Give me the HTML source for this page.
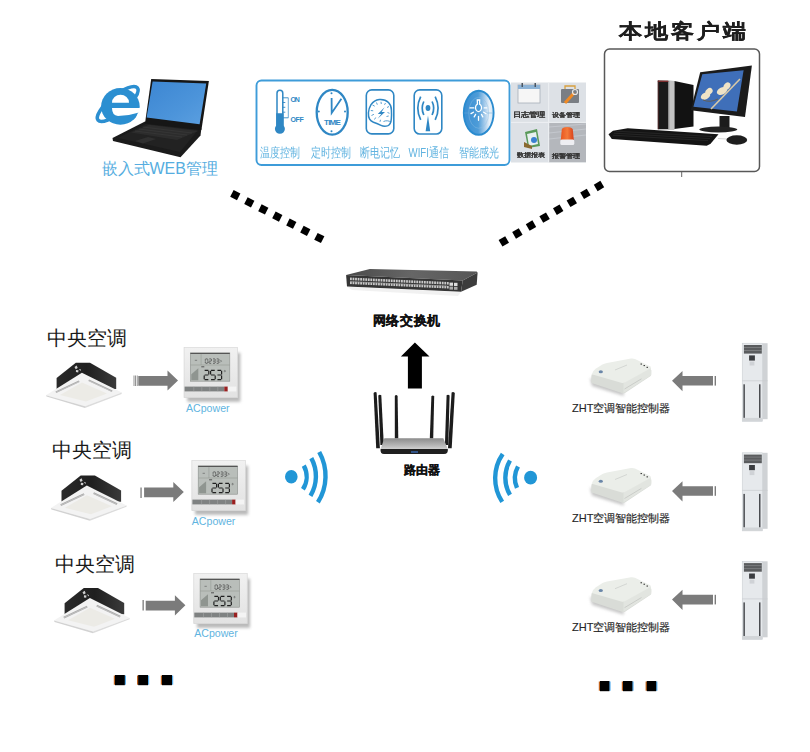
<!DOCTYPE html>
<html><head><meta charset="utf-8">
<style>
html,body{margin:0;padding:0;background:#fff;}
body{width:810px;height:752px;position:relative;overflow:hidden;font-family:"Liberation Sans",sans-serif;}
svg.main{position:absolute;left:0;top:0;}
.t{position:absolute;white-space:nowrap;line-height:1;}
.feat{color:#60b3e0;font-size:9.65px;transform-origin:0 0;transform:scaleY(1.3);}
.grid{color:#383838;-webkit-text-stroke:0.1px #383838;font-size:8.2px;font-weight:bold;transform-origin:0 0;transform:scaleY(0.85);}
.ac{color:#1a1a1a;font-size:19.6px;}
.acp{color:#5fb4e0;font-size:10.6px;}
.zht{color:#262626;font-size:11px;-webkit-text-stroke:0.15px #262626;}
</style></head>
<body>
<svg class="main" width="810" height="752" viewBox="0 0 810 752">
<defs>
  <linearGradient id="lapscr" x1="0" y1="0" x2="1" y2="1">
    <stop offset="0" stop-color="#3c86d2"/><stop offset="0.6" stop-color="#4c94da"/><stop offset="1" stop-color="#5b9fe0"/>
  </linearGradient>
  <radialGradient id="bulbg" cx="0.7" cy="0.45" r="0.7">
    <stop offset="0" stop-color="#e8f2fa"/><stop offset="0.45" stop-color="#7db7e2"/><stop offset="1" stop-color="#3a8ccd"/>
  </radialGradient>
</defs>

<!-- IE logo -->
<ellipse cx="117.7" cy="104" rx="25.5" ry="8.5" transform="rotate(-39.5 117.7 104)" fill="none" stroke="#2b8fd1" stroke-width="3.6"/>
<ellipse cx="120.4" cy="106.4" rx="19.3" ry="18.3" fill="#2b8fd1"/>
<path fill="#fff" d="M112,102.7 H129 A8.5,8 0 0 0 112,102.7 Z"/>
<path fill="#fff" d="M112,108 H142 V112.7 H138 Q128,116 118,116 Q112,115.5 112,108 Z"/>
<polygon fill="#fff" points="138,112.7 142,112.7 142,122 135.3,119.3"/>
<!-- Laptop -->
<polygon points="112.5,138 145,121.5 201.4,128.3 200.5,135.4 180.5,157.3 113,141" fill="#1b1b1b"/>
<polygon points="118,138 146,124 198,130 180,152" fill="#222"/>
<polygon points="131,132.5 149,124.8 198,131 177,140" fill="#2c2c2c"/>
<g stroke="#3e3e3e" stroke-width="0.5"><line x1="135" y1="131" x2="182" y2="137"/><line x1="139" y1="129" x2="187" y2="135"/><line x1="143" y1="127" x2="192" y2="133"/></g>
<polygon points="135,141 148,137 156,139 143,143.5" fill="#303030"/>
<polygon points="151.2,79.1 208.9,81.1 201.4,130 145,123.5" fill="#161616"/>
<polygon points="152.6,81.4 206.2,83.4 199.6,124.2 146.6,117.6" fill="url(#lapscr)"/>

<!-- Feature panel -->
<rect x="256.5" y="80.5" width="253" height="84.5" rx="5" fill="#fff" stroke="#3e9cd9" stroke-width="1.9"/>
<g fill="none" stroke="#2f87c4">
  <!-- thermometer -->
  <path d="M277,127 V93.2 A2.9,2.9 0 0 1 282.8,93.2 V127" stroke-width="1.5"/>
  <line x1="282.8" y1="97.8" x2="288.3" y2="97.8" stroke-width="0.9"/>
  <line x1="282.8" y1="102.5" x2="285.3" y2="102.5" stroke-width="0.9"/>
  <line x1="282.8" y1="107.3" x2="285.3" y2="107.3" stroke-width="0.9"/>
  <line x1="282.8" y1="112.2" x2="285.3" y2="112.2" stroke-width="0.9"/>
  <line x1="282.8" y1="117.8" x2="288.3" y2="117.8" stroke-width="0.9"/>
  <line x1="288.3" y1="97.8" x2="288.3" y2="117.8" stroke-width="0.7"/>
  <!-- clock -->
  <ellipse cx="332.2" cy="112.2" rx="15.5" ry="22.4" stroke-width="2.3"/>
  <path d="M331.6,98 L331.7,112.9 L341.4,98.7" stroke-width="1.8"/>
  <!-- brain box -->
  <rect x="366.3" y="89.9" width="27.5" height="44" rx="5.5" stroke-width="1.6"/>
  <path d="M369.6,119.2 C367.8,116 367.8,110 371,104.7 C373.5,101 376.5,99.8 379.3,99.5 C383,99.2 386.5,100.5 388.5,102.5 C390.8,104.8 391.4,107.5 391.4,110 C391.6,113 391.6,116 391.3,119 C391.1,122 390.3,124.5 388,125.6 C386,126.4 383,126.4 381,125.4 C378.5,124.2 376,123.2 373.5,122.3 C371.8,121.6 370.5,120.8 369.6,119.2 Z" stroke-width="1.5"/>
  <path d="M383.5,121.5 C386,120.3 389,120.6 391,122.2 M372.5,105 l2.2,1.2 M376.5,102.5 l0.8,2.2 M381,101.8 l0.3,2.2 M385.5,103 l-1,1.8 M389,106.5 l-2,1 M370.8,110.5 l2.4,0.3 M371.5,115.5 l2.4,-1.2 M374.5,119.5 l1.2,-2 M387.5,112.5 l2,0.8 M386.5,116.5 l2.2,-0.5 M380,121.8 l0.5,-2" stroke-width="0.8"/>
  <!-- wifi box -->
  <rect x="414.2" y="89.9" width="27.6" height="44.1" rx="5.5" stroke-width="1.6"/>
  <path d="M423.8,101.5 Q420.6,108.2 423.8,115 M432.1,101.5 Q435.3,108.2 432.1,115" stroke-width="1.7"/>
  <path d="M420.7,96.7 Q414.9,108.3 420.7,119.9 M435.2,96.7 Q441,108.3 435.2,119.9" stroke-width="1.7"/>
</g>
<g fill="#2f87c4">
  <path d="M276.2,113.3 H283.6 V125.5 A5,5 0 1 1 276.2,125.5 Z"/>
  <circle cx="331.5" cy="93.2" r="1"/><circle cx="331.5" cy="131.3" r="1"/>
  <circle cx="318.8" cy="111.6" r="1"/><circle cx="345" cy="111.6" r="1"/>
  <path d="M384.6,107.2 L377.8,114 H381.3 L377.6,118.8 L385,112 H381.6 Z"/>
  <ellipse cx="428" cy="108.1" rx="2.4" ry="3"/>
  <path d="M428,115.4 L430.2,131.3 H425.6 Z"/>
</g>
<defs>
  <linearGradient id="bulbl" x1="0" y1="0" x2="1" y2="0">
    <stop offset="0" stop-color="#3a8ed2"/><stop offset="0.48" stop-color="#4d9cd8"/><stop offset="0.7" stop-color="#a6cbeb"/><stop offset="0.86" stop-color="#e8f1f9"/><stop offset="1" stop-color="#d2e5f4"/>
  </linearGradient>
</defs>
<ellipse cx="478.7" cy="112.8" rx="14.9" ry="22" fill="url(#bulbl)" stroke="#2a8bcf" stroke-width="1.9"/>
<ellipse cx="478.7" cy="112.8" rx="10" ry="15.5" fill="none" stroke="#8fbfe3" stroke-width="0.6" opacity="0.7"/>
<line x1="464" y1="113" x2="493.5" y2="113" stroke="#6aaad8" stroke-width="0.5"/>
<g fill="none" stroke="#fff" stroke-width="1.3" stroke-linecap="round">
  <path d="M477.3,100 H479.7 L479.6,104.2 A3,3.8 0 1 1 477.4,104.2 Z" fill="#4a9ad6"/>
  <path d="M470,107.9 H473.8 M484.2,107.9 H486.7 M471,113.6 L473.4,112.2 M474.2,116.9 L475.6,114.4 M478.5,120.3 V116.3 M482.8,116.9 L481.5,114.4 M486,113.6 L483.6,112.2"/>
</g>
<g font-family="Liberation Sans" font-weight="bold" fill="#2f87c4">
  <text x="290.4" y="102.3" font-size="7" textLength="9.5" transform="translate(290.4 102.3) scale(1 1.05) translate(-290.4 -102.3)">ON</text>
  <text x="290.4" y="121.7" font-size="7" textLength="13.5" transform="translate(290.4 121.7) scale(1 1.05) translate(-290.4 -121.7)">OFF</text>
  <text x="324.1" y="125.2" font-size="8" textLength="16.7" transform="translate(324.1 125.2) scale(1 1.0) translate(-324.1 -125.2)">TIME</text>
</g>

<!-- Grey grid -->
<rect x="511" y="82.5" width="75" height="80" fill="#dde1e6"/>
<rect x="549" y="122.5" width="37" height="39.7" fill="#b4b7bc"/>
<g stroke="#c8ccd2" stroke-width="0.8" fill="none">
  <line x1="549" y1="127" x2="586" y2="124"/><line x1="549" y1="133" x2="586" y2="129"/><line x1="549" y1="139" x2="586" y2="135"/>
</g>
<line x1="548.7" y1="82.5" x2="548.7" y2="162.2" stroke="#eef0f3" stroke-width="1"/>
<line x1="511" y1="122.4" x2="586" y2="122.4" stroke="#eef0f3" stroke-width="1"/>
<!-- calendar -->
<rect x="518" y="85" width="22" height="18" fill="#f6f6f6" stroke="#a9b0b8" stroke-width="0.8"/>
<rect x="518" y="85" width="22" height="4" fill="#8db3d6"/>
<rect x="521.5" y="83" width="1.5" height="4" fill="#4a5560"/><rect x="534.5" y="83" width="1.5" height="4" fill="#4a5560"/>
<!-- toolbox -->
<rect x="561" y="89" width="18" height="14" rx="1" fill="#7a7e84"/>
<path d="M565,89 V86 H575 V89" fill="none" stroke="#d8a040" stroke-width="1.3"/>
<path d="M565,103 L574,93" stroke="#f08a24" stroke-width="3"/>
<circle cx="575" cy="92" r="2.5" fill="none" stroke="#e8e8e8" stroke-width="1.2"/>
<!-- chart icon -->
<polygon points="525,132 537,129 540,146 528,148" fill="#5a9a5a"/>
<polygon points="527,134 536,132 538,144 529,146" fill="#e8f0f0"/>
<circle cx="534" cy="140" r="3" fill="#3a80d0"/>
<polygon points="524,142 532,146 532,149 524,147" fill="#8a6a30"/>
<!-- alarm -->
<defs><linearGradient id="alg" x1="0" y1="0" x2="1" y2="0"><stop offset="0" stop-color="#e8551f"/><stop offset="0.5" stop-color="#f47a3a"/><stop offset="1" stop-color="#d8401a"/></linearGradient></defs>
<path d="M560.8,140 L561.8,129.5 Q562.2,127 567.2,127 Q572.2,127 572.8,129.5 L573.8,140 Z" fill="url(#alg)"/>
<rect x="560.3" y="139.5" width="14" height="5.5" rx="1.5" fill="#eeeef2"/>

<!-- Computer box -->
<rect x="604.5" y="49" width="155" height="122.5" rx="5" fill="#fff" stroke="#585858" stroke-width="1.5"/>
<line x1="681.7" y1="172" x2="681.7" y2="177" stroke="#666" stroke-width="1"/>
<!-- tower -->
<polygon points="674.4,81 693.5,85 693.5,126.5 674.4,129" fill="#121212"/>
<polygon points="657.8,80.6 674.4,81 674.4,129.2 657.8,129.2" fill="#1a1a1a"/>
<rect x="668.3" y="81" width="6.1" height="48.2" fill="#c4c4c4"/>
<rect x="668.3" y="81" width="1" height="48.2" fill="#8a8a8a"/>
<rect x="657.8" y="80.6" width="10.5" height="1.3" fill="#8a3030"/>
<rect x="657.8" y="80.6" width="0.8" height="48.6" fill="#5a2a2a"/>
<!-- monitor -->
<polygon points="700.2,72.2 751.9,65.4 745,117 690.7,110.2" fill="#1b1b1b"/>
<polygon points="702.3,74.3 743.6,70.2 736.9,111.6 693.4,106.8" fill="#3f6fb9"/>
<g fill="#efe3c6">
  <ellipse cx="705.5" cy="96" rx="5" ry="3.3" transform="rotate(-25 705.5 96)"/>
  <ellipse cx="709" cy="91.5" rx="4" ry="3" transform="rotate(-40 709 91.5)"/>
  <ellipse cx="722" cy="91" rx="5.5" ry="3.5" transform="rotate(-25 722 91)"/>
  <ellipse cx="727" cy="86" rx="4" ry="3" transform="rotate(-50 727 86)"/>
</g>
<line x1="711" y1="109" x2="740" y2="79" stroke="#d9c9a6" stroke-width="1.6"/>
<path d="M703,100 Q710,103 718,99" stroke="#6a5a40" stroke-width="0.8" fill="none"/>
<rect x="719.5" y="116" width="10" height="12" fill="#1c1c1c"/>
<ellipse cx="718.3" cy="129.5" rx="19" ry="2.9" fill="#222"/>
<!-- keyboard -->
<polygon points="608.5,134.3 613,130.8 627.7,128.3 718.5,134.2 710.6,143.7 706.7,145.7 611.8,139" fill="#141414"/>
<g stroke="#3a3a3a" stroke-width="0.45">
<line x1="616" y1="131.2" x2="712" y2="136.5"/><line x1="614" y1="133.2" x2="710" y2="138.6"/><line x1="613" y1="135.2" x2="708" y2="140.6"/>
</g>
<line x1="718" y1="138.5" x2="727" y2="139" stroke="#bbb" stroke-width="0.6"/>
<ellipse cx="736.8" cy="140" rx="10.4" ry="4.7" fill="#1e1e1e"/>

<!-- dotted lines -->
<g fill="#000">
<rect x="231.50" y="191.40" width="7.6" height="7.6" transform="rotate(27.0 235.30 195.20)"/>
<rect x="245.50" y="198.53" width="7.6" height="7.6" transform="rotate(27.0 249.30 202.33)"/>
<rect x="259.50" y="205.67" width="7.6" height="7.6" transform="rotate(27.0 263.30 209.47)"/>
<rect x="273.50" y="212.80" width="7.6" height="7.6" transform="rotate(27.0 277.30 216.60)"/>
<rect x="287.50" y="219.93" width="7.6" height="7.6" transform="rotate(27.0 291.30 223.73)"/>
<rect x="301.50" y="227.07" width="7.6" height="7.6" transform="rotate(27.0 305.30 230.87)"/>
<rect x="315.50" y="234.20" width="7.6" height="7.6" transform="rotate(27.0 319.30 238.00)"/>
<rect x="500.00" y="237.60" width="7.6" height="7.6" transform="rotate(-30.2 503.80 241.40)"/>
<rect x="513.60" y="229.69" width="7.6" height="7.6" transform="rotate(-30.2 517.40 233.49)"/>
<rect x="527.20" y="221.77" width="7.6" height="7.6" transform="rotate(-30.2 531.00 225.57)"/>
<rect x="540.80" y="213.86" width="7.6" height="7.6" transform="rotate(-30.2 544.60 217.66)"/>
<rect x="554.40" y="205.94" width="7.6" height="7.6" transform="rotate(-30.2 558.20 209.74)"/>
<rect x="568.00" y="198.03" width="7.6" height="7.6" transform="rotate(-30.2 571.80 201.83)"/>
<rect x="581.60" y="190.11" width="7.6" height="7.6" transform="rotate(-30.2 585.40 193.91)"/>
<rect x="595.20" y="182.20" width="7.6" height="7.6" transform="rotate(-30.2 599.00 186.00)"/>
</g>

<!-- switch -->
<defs><linearGradient id="swtop" x1="0" y1="0" x2="1" y2="0"><stop offset="0" stop-color="#4a4a4a"/><stop offset="0.5" stop-color="#666"/><stop offset="1" stop-color="#555"/></linearGradient></defs>
<polygon points="346.1,275.1 369.8,269 476.7,271.6 477.6,272.5 462.7,280.4" fill="url(#swtop)"/>
<polygon points="346.1,275.1 462.7,280.4 461,291.8 347,286.5" fill="#353535"/>
<polygon points="462.7,280.4 477.6,272.5 476.7,284.8 461,291.8" fill="#3c3c3c"/>
<polygon points="347,286.8 461,292.1 458,296 352,290" fill="#d8d8d8" opacity="0.35"/>
<g fill="#c9c9c9">
<rect x="350.00" y="277.58" width="1.8" height="2.6"/><rect x="352.55" y="277.69" width="1.8" height="2.6"/><rect x="355.10" y="277.81" width="1.8" height="2.6"/><rect x="357.65" y="277.93" width="1.8" height="2.6"/><rect x="360.20" y="278.04" width="1.8" height="2.6"/><rect x="362.75" y="278.16" width="1.8" height="2.6"/><rect x="365.30" y="278.27" width="1.8" height="2.6"/><rect x="367.85" y="278.39" width="1.8" height="2.6"/><rect x="370.40" y="278.50" width="1.8" height="2.6"/><rect x="372.95" y="278.62" width="1.8" height="2.6"/><rect x="375.50" y="278.74" width="1.8" height="2.6"/><rect x="378.05" y="278.85" width="1.8" height="2.6"/><rect x="380.60" y="278.97" width="1.8" height="2.6"/><rect x="383.15" y="279.08" width="1.8" height="2.6"/><rect x="385.70" y="279.20" width="1.8" height="2.6"/><rect x="388.25" y="279.32" width="1.8" height="2.6"/><rect x="390.80" y="279.43" width="1.8" height="2.6"/><rect x="393.35" y="279.55" width="1.8" height="2.6"/><rect x="395.90" y="279.66" width="1.8" height="2.6"/><rect x="398.45" y="279.78" width="1.8" height="2.6"/><rect x="401.00" y="279.90" width="1.8" height="2.6"/><rect x="403.55" y="280.01" width="1.8" height="2.6"/><rect x="406.10" y="280.13" width="1.8" height="2.6"/><rect x="408.65" y="280.24" width="1.8" height="2.6"/><rect x="411.20" y="280.36" width="1.8" height="2.6"/><rect x="413.75" y="280.48" width="1.8" height="2.6"/><rect x="416.30" y="280.59" width="1.8" height="2.6"/><rect x="418.85" y="280.71" width="1.8" height="2.6"/><rect x="421.40" y="280.82" width="1.8" height="2.6"/><rect x="423.95" y="280.94" width="1.8" height="2.6"/><rect x="426.50" y="281.05" width="1.8" height="2.6"/><rect x="429.05" y="281.17" width="1.8" height="2.6"/><rect x="431.60" y="281.29" width="1.8" height="2.6"/><rect x="434.15" y="281.40" width="1.8" height="2.6"/><rect x="436.70" y="281.52" width="1.8" height="2.6"/><rect x="439.25" y="281.63" width="1.8" height="2.6"/><rect x="441.80" y="281.75" width="1.8" height="2.6"/><rect x="444.35" y="281.87" width="1.8" height="2.6"/><rect x="446.90" y="281.98" width="1.8" height="2.6"/>
<rect x="350.00" y="281.48" width="1.8" height="2.6"/><rect x="352.55" y="281.59" width="1.8" height="2.6"/><rect x="355.10" y="281.71" width="1.8" height="2.6"/><rect x="357.65" y="281.82" width="1.8" height="2.6"/><rect x="360.20" y="281.94" width="1.8" height="2.6"/><rect x="362.75" y="282.06" width="1.8" height="2.6"/><rect x="365.30" y="282.17" width="1.8" height="2.6"/><rect x="367.85" y="282.29" width="1.8" height="2.6"/><rect x="370.40" y="282.40" width="1.8" height="2.6"/><rect x="372.95" y="282.52" width="1.8" height="2.6"/><rect x="375.50" y="282.64" width="1.8" height="2.6"/><rect x="378.05" y="282.75" width="1.8" height="2.6"/><rect x="380.60" y="282.87" width="1.8" height="2.6"/><rect x="383.15" y="282.98" width="1.8" height="2.6"/><rect x="385.70" y="283.10" width="1.8" height="2.6"/><rect x="388.25" y="283.22" width="1.8" height="2.6"/><rect x="390.80" y="283.33" width="1.8" height="2.6"/><rect x="393.35" y="283.45" width="1.8" height="2.6"/><rect x="395.90" y="283.56" width="1.8" height="2.6"/><rect x="398.45" y="283.68" width="1.8" height="2.6"/><rect x="401.00" y="283.80" width="1.8" height="2.6"/><rect x="403.55" y="283.91" width="1.8" height="2.6"/><rect x="406.10" y="284.03" width="1.8" height="2.6"/><rect x="408.65" y="284.14" width="1.8" height="2.6"/><rect x="411.20" y="284.26" width="1.8" height="2.6"/><rect x="413.75" y="284.38" width="1.8" height="2.6"/><rect x="416.30" y="284.49" width="1.8" height="2.6"/><rect x="418.85" y="284.61" width="1.8" height="2.6"/><rect x="421.40" y="284.72" width="1.8" height="2.6"/><rect x="423.95" y="284.84" width="1.8" height="2.6"/><rect x="426.50" y="284.95" width="1.8" height="2.6"/><rect x="429.05" y="285.07" width="1.8" height="2.6"/><rect x="431.60" y="285.19" width="1.8" height="2.6"/><rect x="434.15" y="285.30" width="1.8" height="2.6"/><rect x="436.70" y="285.42" width="1.8" height="2.6"/><rect x="439.25" y="285.53" width="1.8" height="2.6"/><rect x="441.80" y="285.65" width="1.8" height="2.6"/><rect x="444.35" y="285.77" width="1.8" height="2.6"/><rect x="446.90" y="285.88" width="1.8" height="2.6"/>
</g>
<g stroke="#9a9a9a" stroke-width="0.6">
<line x1="350" y1="281.6" x2="447" y2="286.0"/>
</g>
<rect x="449.5" y="282.6" width="3.5" height="3.2" fill="#ddd"/><rect x="454" y="282.8" width="3.5" height="3.2" fill="#ddd"/>
<rect x="449.5" y="286.6" width="3.5" height="3" fill="#aaa"/><rect x="454" y="286.8" width="3.5" height="3" fill="#aaa"/>

<!-- up arrow -->
<polygon points="414.9,342.6 429.5,356.6 421.9,356.6 421.9,388.5 407.9,388.5 407.9,356.6 400.9,356.6" fill="#000"/>

<!-- router -->
<g fill="#1c1c1c">
  <path d="M373.6,393 Q375,391.5 376.6,392.5 L379.9,448.3 L376.2,448.3 Z"/>
  <path d="M378.3,395.5 Q379.6,394.2 381.3,395.2 L383.8,445 L380.4,445 Z"/>
  <path d="M394.8,396 Q396.1,393.8 397.6,396 L398.3,438.5 L394.8,438.5 Z"/>
  <path d="M431.4,396.5 Q432.8,394.4 434.2,396.5 L433.2,438.5 L429.8,438.5 Z"/>
  <path d="M451.6,392.5 Q453.3,391.5 454.8,393 L451.7,448.3 L448,448.3 Z"/>
  <path d="M446.6,395.2 Q448.3,394.2 449.6,395.5 L448.3,445 L444.9,445 Z"/>
</g>
<defs><linearGradient id="rtop" x1="0" y1="0" x2="0" y2="1"><stop offset="0" stop-color="#8c8c8c"/><stop offset="0.7" stop-color="#b9b9b9"/><stop offset="1" stop-color="#d0d0d0"/></linearGradient></defs>
<polygon points="384.4,438.3 443.3,438.3 447.8,448.9 380.6,448.9" fill="url(#rtop)"/>
<path d="M380.6,448.9 H447.8 Q448.5,453.9 444,453.9 H384 Q379.9,453.9 380.6,448.9 Z" fill="#202020"/>
<rect x="411" y="451.2" width="7" height="1.6" fill="#3b6fc0" opacity="0.8"/>

<!-- wifi left -->
<ellipse cx="291.3" cy="476.7" rx="6.3" ry="6.8" fill="#2196d6"/>
<g fill="none" stroke="#2196d6" stroke-width="4.4">
  <path d="M303.8,465.6 A23.2,23.2 0 0 1 302.9,489.3"/>
  <path d="M311.3,458.1 A38,38 0 0 1 310.5,495.8"/>
  <path d="M319.2,452 A49,49 0 0 1 317.9,502.3"/>
</g>
<!-- wifi right -->
<ellipse cx="530.6" cy="477.7" rx="6.5" ry="6.9" fill="#2196d6"/>
<g fill="none" stroke="#2196d6" stroke-width="4.4">
  <path d="M518,466.5 A24,24 0 0 0 517,487.9"/>
  <path d="M510,460.5 A34,34 0 0 0 510,494.9"/>
  <path d="M502.7,454 A43,43 0 0 0 502.2,501.9"/>
</g>

<!-- symbols -->
<defs>
  <g id="cac">
    <defs><linearGradient id="cacbox" x1="0" y1="0" x2="1" y2="0"><stop offset="0" stop-color="#2a2a2a"/><stop offset="0.5" stop-color="#1f1f1f"/><stop offset="1" stop-color="#3a3a3a"/></linearGradient></defs>
    <polygon points="75.8,362.7 90,362.7 116.2,377.8 116.2,389 56.6,389 56.6,378" fill="url(#cacbox)"/>
    <path d="M74.5,367 l2.2,-1.5 l1,2.5 l-2,1.2 z M76,370 l2.5,0.2 l-0.3,2.2 l-2.3,-0.3 z M78.8,369 l2.2,0.6 l-0.5,1.5 z" fill="#d0d0d0"/>
    <polygon points="46,395.2 81.9,372.7 121.8,392.6 85,406.2" fill="#f3f3f3"/>
    <polygon points="46,395.2 85,406.2 85,408 46.5,396.6" fill="#d2d2d2"/>
    <polygon points="85,406.2 121.8,392.6 121.6,394 85,408" fill="#dcdcdc"/>
    <polygon points="60,395 82,382.5 107,393.5 86,401.5" fill="#ecebe6"/>
    <line x1="55.8" y1="392.3" x2="79.2" y2="381.3" stroke="#a8a8a8" stroke-width="1.8"/>
    <line x1="56" y1="392.3" x2="79.2" y2="381.6" stroke="#d8d8d8" stroke-width="0.5"/>
    <line x1="88.7" y1="380.3" x2="112.2" y2="391.3" stroke="#a8a8a8" stroke-width="1.8"/>
    <line x1="88.7" y1="380.6" x2="112" y2="391.5" stroke="#d8d8d8" stroke-width="0.5"/>
  </g>
  <filter id="blur1" x="-20%" y="-20%" width="140%" height="140%"><feGaussianBlur stdDeviation="1.5"/></filter>
  <g id="therm">
    <rect x="3.5" y="5.5" width="53" height="49" fill="#8a8a8a" opacity="0.6" filter="url(#blur1)"/>
    <defs><linearGradient id="thg" x1="0" y1="0" x2="0" y2="1"><stop offset="0" stop-color="#f1f1f1"/><stop offset="1" stop-color="#e2e2e2"/></linearGradient></defs>
    <rect x="0" y="0" width="54" height="50.5" fill="url(#thg)"/>
    <rect x="0.3" y="0.3" width="53.4" height="49.9" fill="none" stroke="#d6d6d6" stroke-width="0.6"/>
    <rect x="6.6" y="5.6" width="39.4" height="28.3" fill="#b9beba" stroke="#8a8f8b" stroke-width="0.6"/>
    <rect x="6.6" y="5.6" width="39.4" height="1.1" fill="#555"/>
    <line x1="6.8" y1="17.7" x2="46" y2="17.7" stroke="#8e948f" stroke-width="0.5"/>
    <line x1="17.3" y1="6.8" x2="17.3" y2="17.7" stroke="#8e948f" stroke-width="0.5"/>
    <line x1="11" y1="13" x2="13.3" y2="13" stroke="#555" stroke-width="0.6"/>
    <polygon points="7.5,33 14.5,33 14.5,21 7.5,27" fill="#8f9590"/>
    <path d="M21.80,11.60H23.70M24.00,11.90V13.50M24.00,14.10V15.70M21.80,16.00H23.70M21.50,14.10V15.70M21.50,11.90V13.50M25.50,11.60H27.40M27.70,11.90V13.50M25.50,13.80H27.40M25.20,14.10V15.70M25.50,16.00H27.40M29.20,11.60H31.10M31.40,11.90V13.50M29.20,13.80H31.10M31.40,14.10V15.70M29.20,16.00H31.10M32.90,11.60H34.80M35.10,11.90V13.50M32.90,13.80H34.80M35.10,14.10V15.70M32.90,16.00H34.80" fill="none" stroke="#333" stroke-width="0.65"/>
    <path d="M36.5,12.6 l1.2,1.2 l-1.2,1.2" fill="none" stroke="#333" stroke-width="0.5"/>
    <path d="M20.85,23.00H24.55M25.00,23.45V27.25M20.85,27.70H24.55M20.40,28.15V31.95M20.85,32.40H24.55M27.25,23.00H30.95M26.80,23.45V27.25M27.25,27.70H30.95M31.40,28.15V31.95M27.25,32.40H30.95M33.65,23.00H37.35M37.80,23.45V27.25M33.65,27.70H37.35M37.80,28.15V31.95M33.65,32.40H37.35" fill="none" stroke="#202020" stroke-width="1.2"/>
    <circle cx="41" cy="23.8" r="0.7" fill="none" stroke="#333" stroke-width="0.4"/>
    <rect x="17.5" y="19" width="3" height="1" fill="#555"/>
    <rect x="0.8" y="39.3" width="39.7" height="4.8" fill="#7f8282"/>
    <g stroke="#a9abab" stroke-width="0.5"><line x1="10" y1="39.3" x2="10" y2="44.1"/><line x1="18" y1="39.3" x2="18" y2="44.1"/><line x1="26" y1="39.3" x2="26" y2="44.1"/><line x1="34" y1="39.3" x2="34" y2="44.1"/></g>
    <rect x="40.5" y="39.3" width="3.5" height="4.8" fill="#9a2020"/>
    <rect x="44" y="39.3" width="8.5" height="4.8" fill="#f4f4f4"/>
  </g>
  <g id="arrR">
    <polygon points="138.3,376 167.5,376 167.5,370.5 178,380.5 167.5,390.6 167.5,385.7 138.3,385.7" fill="#7b7b7b"/>
  </g>
  <g id="zht">
    <polygon points="590,378 623,389 624,396 592,386" fill="#999" opacity="0.55" filter="url(#blur1)"/>
    <path d="M591.8,374.2 Q590.8,377 591.6,383 L622.5,393.3 Q624,393.8 625,393 L650.6,376 Q651.6,375 651.3,370 Z" fill="#d9dcd7"/>
    <polygon points="623.5,383 650.8,367.5 651.2,375.3 623.5,393" fill="#e2e5e0"/>
    <path d="M591.8,374.2 Q592.5,371 596,368.5 L602.5,364.4 Q604,363.5 607,362.9 L631,358.6 Q633,358.3 635,359 L649.8,366.2 Q651.5,367.2 650.6,368.2 L625,382.6 Q623.5,383.3 622,383 Z" fill="#ebeee9"/>
    <ellipse cx="600.8" cy="371.8" rx="2.1" ry="1.5" fill="#6a86a8"/>
    <line x1="615" y1="370" x2="627" y2="365" stroke="#c9ccc8" stroke-width="0.7"/>
    <g fill="#404040"><rect x="640.5" y="363.5" width="1.5" height="1.1"/><rect x="643.5" y="365" width="1.5" height="1.1"/><rect x="646.5" y="366.8" width="1.5" height="1.1"/></g>
    <line x1="624.5" y1="389" x2="641.5" y2="378.8" stroke="#c4c7c3" stroke-width="0.8"/>
  </g>
  <g id="arrL">
    <polygon points="672,380.8 682.5,371 682.5,376 713,376 713,385.6 682.5,385.6 682.5,391.2" fill="#7b7b7b"/>
    <rect x="714.6" y="376" width="1.4" height="9.6" fill="#7b7b7b"/>
  </g>
  <g id="fac">
    <rect x="762.4" y="343.2" width="5.2" height="76" fill="#cfd2d5"/>
    <rect x="742.2" y="343.2" width="20.2" height="78.1" fill="#e6e9ec" stroke="#c6cacf" stroke-width="0.5"/>
    <rect x="743.9" y="345" width="17.9" height="8.6" fill="#5a5c5e"/>
    <g stroke="#9a9c9e" stroke-width="0.5"><line x1="744" y1="347.5" x2="761.8" y2="347.5"/><line x1="744" y1="350.5" x2="761.8" y2="350.5"/></g>
    <rect x="749.1" y="355.4" width="5.8" height="5.2" fill="#3a3c40"/>
    <rect x="749.6" y="361.5" width="4.8" height="4" fill="#cfd2d6"/>
    <line x1="742.2" y1="380.8" x2="767.6" y2="380.8" stroke="#c9ccd0" stroke-width="0.7"/>
    <rect x="743.4" y="384.3" width="1.5" height="33.6" fill="#4a4c50"/>
    <rect x="759" y="384.3" width="1.5" height="33.6" fill="#4a4c50"/>
    <rect x="742.2" y="417.9" width="20.2" height="3.4" fill="#d2d5d8"/>
  </g>
</defs>

<use href="#cac"/>
<use href="#cac" transform="translate(4.9 112.8)"/>
<use href="#cac" transform="translate(8 225.3)"/>
<use href="#therm" transform="translate(183.8 347.3)"/>
<use href="#therm" transform="translate(191.6 460.3)"/>
<use href="#therm" transform="translate(193.5 573.3)"/>
<use href="#arrR"/>
<use href="#arrR" transform="translate(5.8 111.5)"/>
<use href="#arrR" transform="translate(7.4 224.8)"/>
<g fill="#7b7b7b">
  <rect x="133.6" y="375.5" width="0.8" height="10.5"/><rect x="135.2" y="375.5" width="0.8" height="10.5"/><rect x="136.8" y="375.5" width="0.8" height="10.5"/>
  <rect x="140.4" y="487.5" width="1.3" height="10.5"/>
  <rect x="142.5" y="600" width="1.3" height="10.5"/>
</g>
<use href="#zht"/>
<use href="#zht" transform="translate(0 109.5)"/>
<use href="#zht" transform="translate(0 218.7)"/>
<use href="#arrL"/>
<use href="#arrL" transform="translate(0 110.2)"/>
<use href="#arrL" transform="translate(0 218.8)"/>
<use href="#fac"/>
<use href="#fac" transform="translate(0 109.6)"/>
<use href="#fac" transform="translate(0 218.1)"/>

<!-- dots -->
<filter id="blur05" x="-30%" y="-30%" width="160%" height="160%"><feGaussianBlur stdDeviation="0.6"/></filter>
<g filter="url(#blur05)">
<rect x="113.8" y="675.5" width="2.4" height="9.2" fill="#c0641e"/><rect x="123.6" y="675.5" width="2.4" height="9.2" fill="#5ab0ee"/><rect x="115.0" y="675.0" width="9.8" height="10.2" fill="#050505"/>
<rect x="137.0" y="675.5" width="2.4" height="9.2" fill="#c0641e"/><rect x="146.8" y="675.5" width="2.4" height="9.2" fill="#5ab0ee"/><rect x="138.2" y="675.0" width="9.8" height="10.2" fill="#050505"/>
<rect x="160.8" y="675.5" width="2.4" height="9.2" fill="#c0641e"/><rect x="170.8" y="675.5" width="2.4" height="9.2" fill="#5ab0ee"/><rect x="162.0" y="675.0" width="10" height="10.2" fill="#050505"/>
<rect x="598.8" y="681.5" width="2.4" height="9.2" fill="#c0641e"/><rect x="608.2" y="681.5" width="2.4" height="9.2" fill="#5ab0ee"/><rect x="600.0" y="681.0" width="9.4" height="10.2" fill="#050505"/>
<rect x="621.8" y="681.5" width="2.4" height="9.2" fill="#c0641e"/><rect x="631.2" y="681.5" width="2.4" height="9.2" fill="#5ab0ee"/><rect x="623.0" y="681.0" width="9.4" height="10.2" fill="#050505"/>
<rect x="645.6" y="681.5" width="2.4" height="9.2" fill="#c0641e"/><rect x="655.0" y="681.5" width="2.4" height="9.2" fill="#5ab0ee"/><rect x="646.8" y="681.0" width="9.4" height="10.2" fill="#050505"/>
</g>
</svg>

<div class="t" style="left:101.5px;top:160.5px;color:#55ade0;font-size:16px;">嵌入式WEB管理</div>
<div class="t feat" style="left:259.7px;top:146.5px;">温度控制</div>
<div class="t feat" style="left:310.5px;top:146.5px;">定时控制</div>
<div class="t feat" style="left:360.2px;top:146.5px;">断电记忆</div>
<div class="t feat" style="left:408.6px;top:146.5px;">WIFI通信</div>
<div class="t feat" style="left:459.3px;top:146.5px;">智能感光</div>
<div class="t grid" style="left:512.8px;top:111.5px;font-size:8.2px;">日志管理</div>
<div class="t grid" style="left:552.2px;top:111.8px;font-size:7.35px;">设备管理</div>
<div class="t grid" style="left:517px;top:153.3px;font-size:6.9px;">数据报表</div>
<div class="t grid" style="left:552.3px;top:152.8px;font-size:7.35px;">报警管理</div>
<div class="t" style="left:619px;top:21.3px;color:#1e1e1e;font-size:23px;font-weight:bold;letter-spacing:3.1px;-webkit-text-stroke:0.3px #1e1e1e;transform-origin:0 0;transform:scaleY(0.87);">本地客户端</div>


<div class="t" style="left:372.8px;top:314px;color:#111;font-size:13.4px;letter-spacing:0.6px;font-weight:bold;-webkit-text-stroke:0.3px #111;">网络交换机</div>
<div class="t" style="left:404px;top:464px;color:#111;font-size:12px;font-weight:bold;-webkit-text-stroke:0.3px #111;">路由器</div>
<div class="t ac" style="left:46.8px;top:329px;">中央空调</div>
<div class="t ac" style="left:51.8px;top:441.2px;">中央空调</div>
<div class="t ac" style="left:54.6px;top:554.5px;">中央空调</div>
<div class="t acp" style="left:186px;top:403px;">ACpower</div>
<div class="t acp" style="left:191.8px;top:516.4px;">ACpower</div>
<div class="t acp" style="left:194.2px;top:628px;">ACpower</div>
<div class="t zht" style="left:572px;top:403px;">ZHT空调智能控制器</div>
<div class="t zht" style="left:572px;top:512.5px;">ZHT空调智能控制器</div>
<div class="t zht" style="left:572px;top:621.5px;">ZHT空调智能控制器</div>
</body></html>
